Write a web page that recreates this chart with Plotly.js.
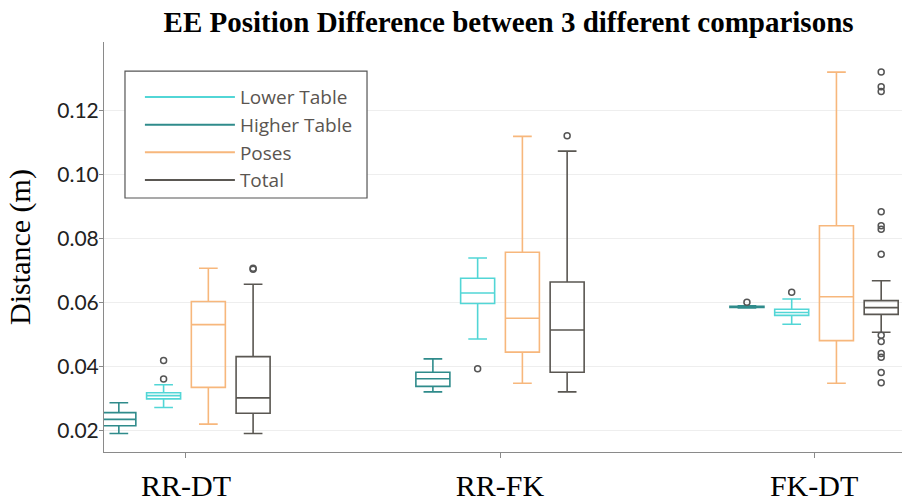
<!DOCTYPE html>
<html>
<head>
<meta charset="utf-8">
<script src="https://cdn.plot.ly/plotly-3.0.1.min.js"></script>
<style>html,body{margin:0;padding:0;background:#fff;}#chart{width:902px;height:501px;}</style>
</head>
<body>
<div id="chart"></div>
<script>
// Categories
const categories = ['RR-DT', 'RR-FK', 'FK-DT'];

// Higher Table
const higherQ1 = [0.0215, 0.0338, 0.0585];
const higherMedian = [0.0235, 0.0362, 0.0586];
const higherQ3 = [0.0256, 0.0382, 0.0588];
const higherLow = [0.0191, 0.0321, 0.0583];
const higherHigh = [0.0287, 0.0424, 0.0590];
const higherOutCat = ['FK-DT'];
const higherOutVal = [0.0601];

// Lower Table
const lowerQ1 = [0.0299, 0.0597, 0.0560];
const lowerMedian = [0.0309, 0.0630, 0.0569];
const lowerQ3 = [0.0318, 0.0676, 0.0579];
const lowerLow = [0.0272, 0.0486, 0.0532];
const lowerHigh = [0.0343, 0.0739, 0.0611];
const lowerOutCat = ['RR-DT', 'RR-DT', 'RR-FK', 'FK-DT'];
const lowerOutVal = [0.0419, 0.0361, 0.0393, 0.0632];

// Poses
const posesQ1 = [0.0335, 0.0445, 0.0481];
const posesMedian = [0.0531, 0.0551, 0.0618];
const posesQ3 = [0.0603, 0.0757, 0.0840];
const posesLow = [0.0220, 0.0348, 0.0348];
const posesHigh = [0.0707, 0.1119, 0.1320];

// Total
const totalQ1 = [0.0254, 0.0382, 0.0563];
const totalMedian = [0.0302, 0.0514, 0.0584];
const totalQ3 = [0.0431, 0.0664, 0.0606];
const totalLow = [0.0191, 0.0321, 0.0507];
const totalHigh = [0.0657, 0.1073, 0.0668];
const totalOutCat = ['RR-DT', 'RR-DT', 'RR-FK',
  'FK-DT', 'FK-DT', 'FK-DT', 'FK-DT', 'FK-DT', 'FK-DT', 'FK-DT',
  'FK-DT', 'FK-DT', 'FK-DT', 'FK-DT', 'FK-DT', 'FK-DT'];
const totalOutVal = [0.0704, 0.0707, 0.1121,
  0.1320, 0.1274, 0.1259, 0.0884, 0.0840, 0.0829, 0.0751,
  0.0498, 0.0478, 0.0441, 0.0429, 0.0381, 0.0349];

// Tick labels
const yTickVals = [0.02, 0.04, 0.06, 0.08, 0.10, 0.12];
const yTickText = ['0.02', '0.04', '0.06', '0.08', '0.10', '0.12'];

const series = [
  {name: 'Higher Table', color: '#2f8b8b', q1: higherQ1, med: higherMedian, q3: higherQ3, lo: higherLow, hi: higherHigh, oc: higherOutCat, ov: higherOutVal, rank: 2},
  {name: 'Lower Table', color: '#52d6d6', q1: lowerQ1, med: lowerMedian, q3: lowerQ3, lo: lowerLow, hi: lowerHigh, oc: lowerOutCat, ov: lowerOutVal, rank: 1},
  {name: 'Poses', color: '#f7b77c', q1: posesQ1, med: posesMedian, q3: posesQ3, lo: posesLow, hi: posesHigh, oc: [], ov: [], rank: 3},
  {name: 'Total', color: '#5a5752', q1: totalQ1, med: totalMedian, q3: totalQ3, lo: totalLow, hi: totalHigh, oc: totalOutCat, ov: totalOutVal, rank: 4}
];

const traces = [];
series.forEach(s => {
  traces.push({
    type: 'box', name: s.name, x: categories,
    q1: s.q1, median: s.med, q3: s.q3, lowerfence: s.lo, upperfence: s.hi,
    boxpoints: false, alignmentgroup: 'g', offsetgroup: s.name,
    line: {color: s.color, width: 1.6}, fillcolor: 'rgba(255,255,255,0)',
    whiskerwidth: 0.55, showlegend: false, hoverinfo: 'y'
  });
  if (s.oc.length) {
    traces.push({
      type: 'box', name: s.name + ' outliers', x: s.oc, y: s.ov,
      boxpoints: 'all', jitter: 0, pointpos: 0,
      alignmentgroup: 'g', offsetgroup: s.name,
      line: {color: 'rgba(0,0,0,0)', width: 0}, fillcolor: 'rgba(0,0,0,0)',
      marker: {symbol: 'circle-open', color: '#555555', size: 6, line: {width: 1.5}},
      showlegend: false, hoverinfo: 'y'
    });
  }
});
series.forEach(s => {
  traces.push({
    type: 'scatter', mode: 'lines', name: s.name, x: [null], y: [null],
    line: {color: s.color, width: 2}, legendrank: s.rank, showlegend: true, hoverinfo: 'skip'
  });
});

const layout = {
  width: 902, height: 501,
  margin: {l: 104, r: 0, t: 42, b: 49},
  paper_bgcolor: '#ffffff', plot_bgcolor: '#ffffff',
  title: {
    text: 'EE Position Difference between 3 different comparisons',
    font: {family: 'Liberation Serif', size: 29, color: '#000', weight: 700},
    x: 0.507, xref: 'paper', xanchor: 'center', y: 0.956, yref: 'container', yanchor: 'middle'
  },
  boxmode: 'group', boxgap: 0.43, boxgroupgap: 0.24,
  xaxis: {
    type: 'category', categoryorder: 'array', categoryarray: categories,
    range: [-0.261, 2.28], showgrid: false, zeroline: false,
    showline: true, linecolor: '#8a8a8a', linewidth: 1,
    ticks: 'outside', ticklen: 5, tickcolor: '#8a8a8a',
    tickfont: {family: 'Liberation Serif', size: 30, color: '#000'},
    ticklabelstandoff: 2
  },
  yaxis: {
    range: [0.0133, 0.1414], tickvals: yTickVals, ticktext: yTickText,
    showgrid: true, gridcolor: '#eeeeee', gridwidth: 1, zeroline: false,
    showline: true, linecolor: '#8a8a8a', linewidth: 1,
    ticks: 'outside', ticklen: 4, tickcolor: '#8a8a8a',
    tickfont: {family: 'Lato', size: 21, color: '#222'},
    ticklabelstandoff: -4,
    title: {text: 'Distance (m)', font: {family: 'Liberation Serif', size: 30, color: '#000'}, standoff: 17}
  },
  showlegend: true,
  legend: {
    x: 0.045, xanchor: 'left', y: 0.912, yanchor: 'top',
    bgcolor: 'rgba(0,0,0,0)', borderwidth: 0,
    font: {family: 'Open Sans', size: 19, color: '#5a5550'},
    itemwidth: 90, traceorder: 'normal'
  },
  shapes: [{
    type: 'rect', xref: 'paper', yref: 'paper',
    x0: 0.0263, x1: 0.3296, y0: 0.6195, y1: 0.929,
    line: {color: '#555555', width: 1.2}, fillcolor: '#ffffff', layer: 'above'
  }]
};

Plotly.newPlot('chart', traces, layout, {displayModeBar: false, staticPlot: true});
</script>
</body>
</html>
